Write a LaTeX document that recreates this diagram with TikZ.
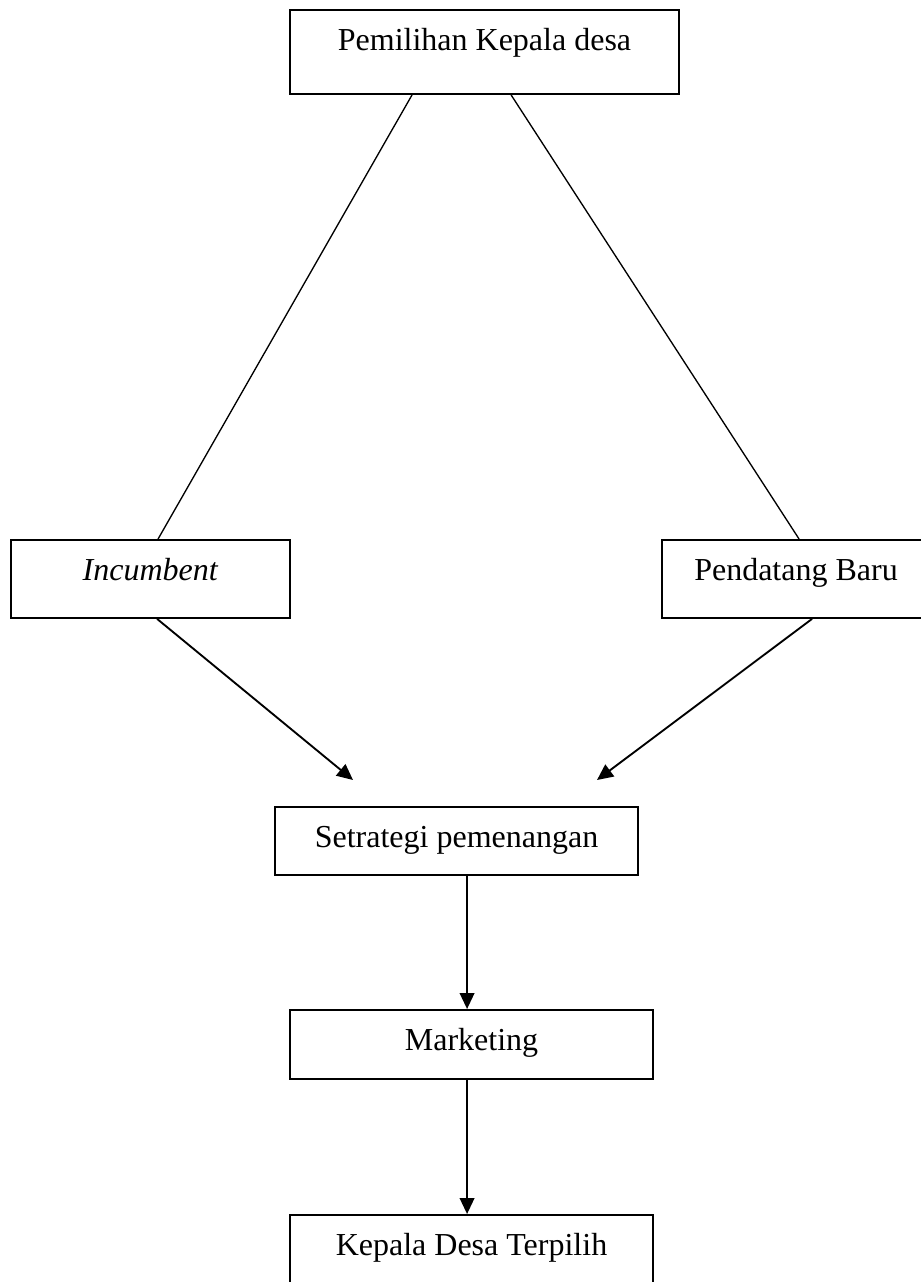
\documentclass[tikz,border=0pt]{standalone}
\usepackage{fontspec}
\setmainfont{Liberation Serif}
\usetikzlibrary{arrows.meta,calc}
\begin{document}
\begin{tikzpicture}[x=0.75pt,y=-0.75pt,
  box/.style={draw,line width=1.4pt,inner sep=0pt,anchor=north,align=center,
    font=\fontsize{24}{28}\selectfont,text height=30.75pt},
  conn/.style={line width=1.0pt},
  arr/.style={line width=1.4pt,-{Triangle[length=12pt,width=11pt]}}]
\clip (0,0) rectangle (921,1282);
\useasboundingbox (0,0) rectangle (921,1282);
\node[box,minimum width=291.75pt,text depth=32.25pt] (b1) at (484.5,9) {Pemilihan Kepala desa};
\node[box,minimum width=209.25pt,text depth=27.75pt] (b2) at (150.5,539) {\textit{Incumbent}};
\node[box,minimum width=201pt,text depth=27.75pt] (b3) at (796,539) {Pendatang Baru};
\node[box,minimum width=272.25pt,text depth=20.25pt] (b4) at (456.5,806) {Setrategi pemenangan};
\node[box,minimum width=272.25pt,text depth=21pt] (b5) at (471.5,1009) {Marketing};
\node[box,minimum width=272.25pt,text depth=40pt] (b6) at (471.5,1214) {Kepala Desa Terpilih};
\coordinate (t1) at (353,780);
\coordinate (t2) at (597,780);
\draw[conn] ($(b1.south west)+(123,0)$) -- ($(b2.north west)+(148,0)$);
\draw[conn] ($(b1.south west)+(222,0)$) -- ($(b3.north west)+(138,0)$);
\draw[arr] ($(b2.south west)+(147,0)$) -- (t1);
\draw[arr] ($(b3.south west)+(151,0)$) -- (t2);
\draw[arr] ($(b4.south west)+(193,0)$) -- ($(b5.north west)+(178,0)$);
\draw[arr] ($(b5.south west)+(178,0)$) -- ($(b6.north west)+(178,0)$);
\end{tikzpicture}
\end{document}
